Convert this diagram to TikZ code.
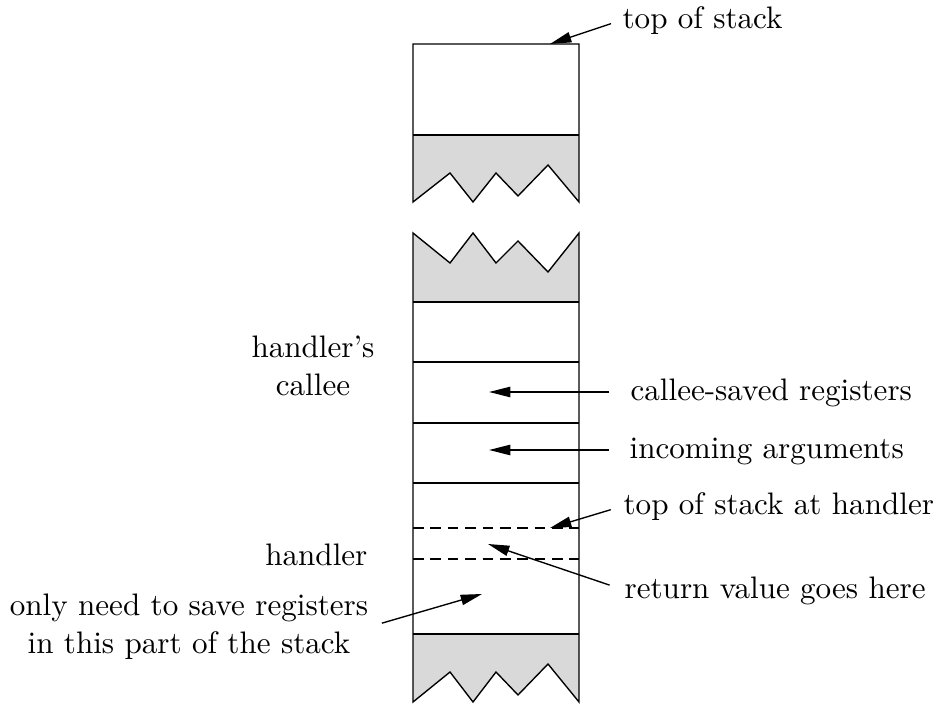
\documentclass[tikz,border=0pt]{standalone}
\usetikzlibrary{arrows.meta}
\begin{document}
\begin{tikzpicture}[x=0.328pt,y=-0.328pt,
  font=\fontsize{10.2}{12.4}\selectfont,
  thin/.style={line width=0.45pt},
  torn/.style={fill=gray!30},
  arr/.style={-{Triangle[length=7pt,width=3.4pt]}, line width=0.45pt},
  lbl/.style={inner sep=0pt, text height=1.5ex, text depth=.25ex},
  blocklbl/.style={inner sep=0pt, align=center},
]
\useasboundingbox (0,0) rectangle (939,706);

% ---- upper fragment of the stack (top of stack) ----
\fill[torn] (413,135) -- (579,135) -- (579,202) -- (548,165) -- (518,196)
  -- (496,173) -- (473,202) -- (450,173) -- (413,202) -- cycle;
\draw[thin] (413,202) -- (413,44) -- (579,44) -- (579,202) -- (548,165)
  -- (518,196) -- (496,173) -- (473,202) -- (450,173) -- cycle;
\draw[thin] (413,135) -- (579,135);

% ---- lower fragment of the stack ----
\fill[torn] (413,233) -- (450,263) -- (473,233) -- (496,263) -- (518,241)
  -- (548,272) -- (579,233) -- (579,302) -- (413,302) -- cycle;
\fill[torn] (413,634) -- (579,634) -- (579,702) -- (548,664) -- (518,695)
  -- (496,672) -- (473,702) -- (450,672) -- (413,702) -- cycle;
\draw[thin] (413,233) -- (450,263) -- (473,233) -- (496,263) -- (518,241)
  -- (548,272) -- (579,233) -- (579,702) -- (548,664) -- (518,695)
  -- (496,672) -- (473,702) -- (450,672) -- (413,702) -- cycle;
\draw[thin] (413,302) -- (579,302);
\draw[thin] (413,362) -- (579,362);
\draw[thin] (413,423) -- (579,423);
\draw[line width=0.8pt] (413,483) -- (579,483);
\draw[thin, dash pattern=on 3.5pt off 2.2pt] (413,528) -- (579,528);
\draw[thin, dash pattern=on 3.5pt off 2.2pt] (413,559) -- (579,559);
\draw[thin] (413,634) -- (579,634);

% ---- arrow targets inside the stack ----
\coordinate (tos)  at (550,44);
\coordinate (csr)  at (489,392);
\coordinate (inc)  at (489,450);
\coordinate (tosh) at (550,528);
\coordinate (ret)  at (488,544);
\coordinate (part) at (482,594);

% ---- labels ----
\node[lbl, anchor=west] (ltos)  at (622,20)  {top of stack};
\node[lbl, anchor=west] (lcsr)  at (630,392) {callee-saved registers};
\node[lbl, anchor=west] (linc)  at (629,450) {incoming arguments};
\node[lbl, anchor=west] (ltosh) at (623,506) {top of stack at handler};
\node[lbl, anchor=west] (lret)  at (624,590) {return value goes here};
\node[blocklbl] (lcallee) at (313,366) {handler's\\callee};
\node[lbl, anchor=east] (lhand) at (368,557) {handler};
\node[blocklbl] (lpart) at (189,627) {only need to save registers\\in this part of the stack};

% ---- connectors ----
\draw[arr, shorten <=3.8pt] (ltos.west)  -- (tos);
\draw[arr, shorten <=6.8pt] (lcsr.west)  -- (csr);
\draw[arr, shorten <=6.6pt] (linc.west)  -- (inc);
\draw[arr, shorten <=4.2pt] (ltosh.west) -- (tosh);
\draw[arr, shorten <=5pt]   (lret.west)  -- (ret);
\draw[arr, shorten <=4.5pt] (lpart.east) -- (part);
\end{tikzpicture}
\end{document}
